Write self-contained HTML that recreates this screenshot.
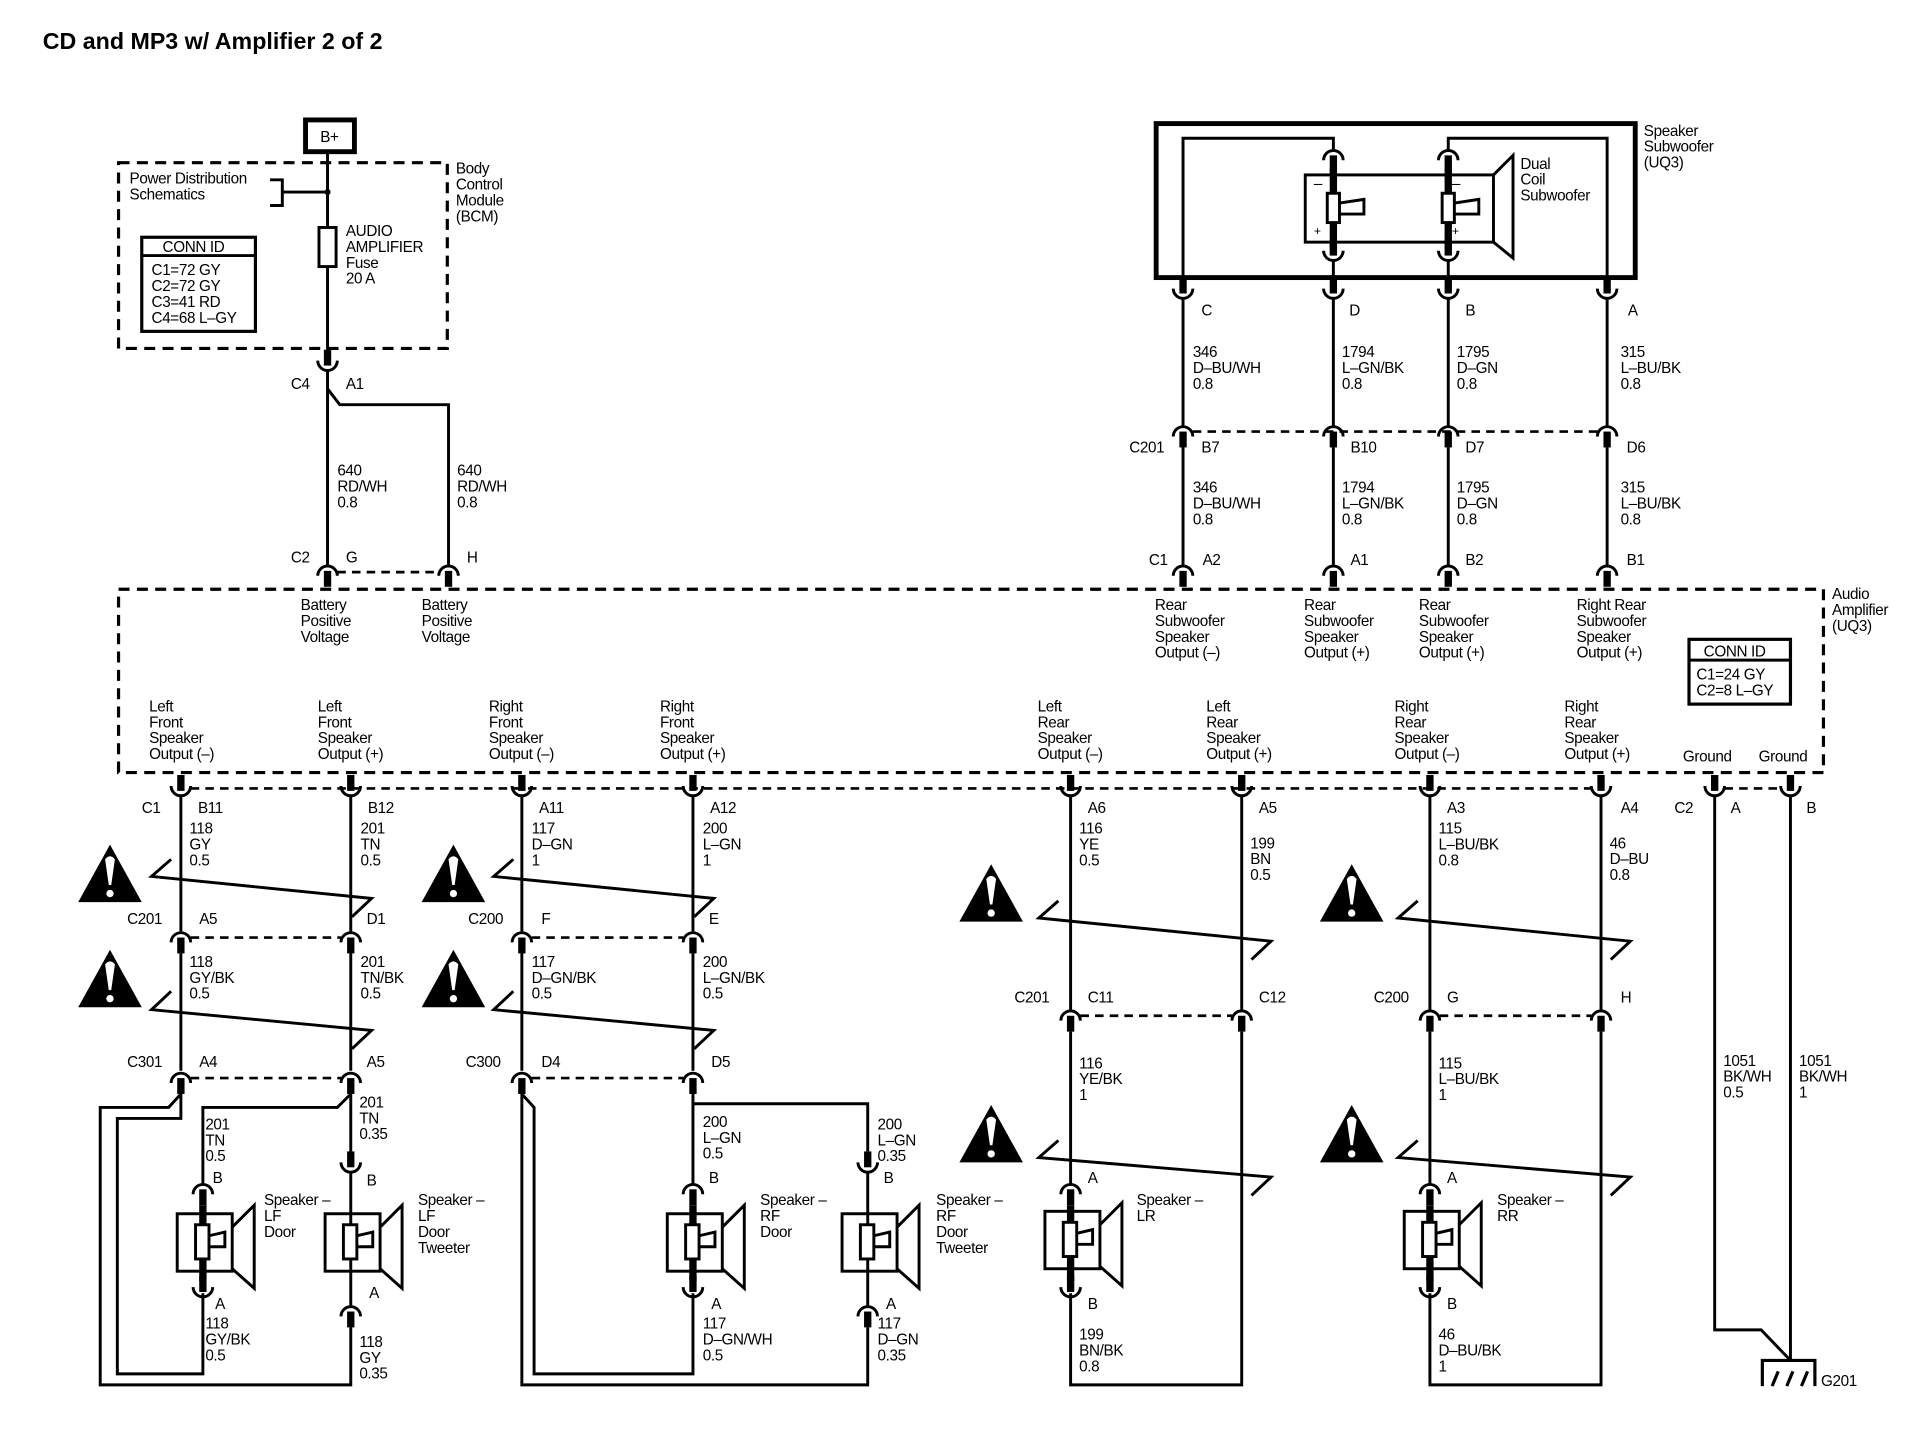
<!DOCTYPE html>
<html><head><meta charset="utf-8"><style>
html,body{margin:0;padding:0;background:#fff}
svg{display:block}
text{font-family:"Liberation Sans",Arial,sans-serif;font-size:12.5px;fill:#000;letter-spacing:-0.3px}
.t{font-size:19px;font-weight:bold;letter-spacing:0}
.w{fill:none;stroke:#000;stroke-width:2.4}
.d{fill:none;stroke:#000;stroke-width:2.6;stroke-dasharray:9 6}
.dd{fill:none;stroke:#000;stroke-width:2.2;stroke-dasharray:7 5}
</style></head><body>
<svg width="1920" height="1440" viewBox="0 0 1571 1178" xmlns="http://www.w3.org/2000/svg">
<defs>
<g id="su"><path d="M0,-16V-3" stroke="#000" stroke-width="6"/><path d="M-8,-7 A8,8 0 0 0 8,-7" fill="none" stroke="#000" stroke-width="2.4"/></g>
<g id="sn"><path d="M0,3V16" stroke="#000" stroke-width="6"/><path d="M-8,7 A8,8 0 0 1 8,7" fill="none" stroke="#000" stroke-width="2.4"/></g>
<g id="spk" fill="none" stroke="#000" stroke-width="2.4">
<rect x="-21" y="-23" width="45" height="47"/>
<rect x="-6" y="-14" width="11" height="28" fill="#fff"/>
<path d="M5,-5 L18,-8 L18,4 L5,4"/>
<path d="M24,-12 L42,-30 L42,38 L24,22"/>
</g>
<g id="warn"><path d="M0,0 L26,-47 L52,0 Z" fill="#000"/><path d="M22,-35 Q26,-40 30,-35 L27,-14 L25,-14 Z" fill="#fff"/><circle cx="26" cy="-7" r="3" fill="#fff"/></g>
</defs>

<text x="35" y="40" class="t">CD and MP3 w/ Amplifier 2 of 2</text>

<!-- B+ and BCM -->
<rect x="250" y="98" width="40" height="26" fill="none" stroke="#000" stroke-width="4"/>
<text x="262" y="116">B+</text>
<rect x="97" y="133" width="269" height="152" class="d"/>
<text x="106" y="150">Power Distribution</text><text x="106" y="163">Schematics</text>
<path d="M221,147 H231 V168 H221 M231,157 H268" class="w"/>
<circle cx="268" cy="157" r="2.5"/>
<path d="M268,124 V296" class="w"/>
<rect x="261" y="186" width="14" height="32" fill="#fff" stroke="#000" stroke-width="2.4"/>
<text x="283" y="193">AUDIO</text><text x="283" y="206">AMPLIFIER</text><text x="283" y="219">Fuse</text><text x="283" y="232">20 A</text>
<rect x="116" y="194" width="93" height="77" fill="none" stroke="#000" stroke-width="2.6"/>
<path d="M116,209 H209" class="w"/>
<text x="133" y="206">CONN ID</text>
<text x="124" y="225">C1=72 GY</text><text x="124" y="238">C2=72 GY</text><text x="124" y="251">C3=41 RD</text><text x="124" y="264">C4=68 L–GY</text>
<text x="373" y="142">Body</text><text x="373" y="155">Control</text><text x="373" y="168">Module</text><text x="373" y="181">(BCM)</text>
<use href="#su" x="268" y="302"/>
<text x="238" y="318">C4</text><text x="283" y="318">A1</text>
<path d="M268,302 V462 M268,318 L278,331 H367 V462" class="w"/>
<text x="276" y="389">640</text><text x="276" y="402">RD/WH</text><text x="276" y="415">0.8</text>
<text x="374" y="389">640</text><text x="374" y="402">RD/WH</text><text x="374" y="415">0.8</text>
<use href="#sn" x="268" y="464"/><use href="#sn" x="367" y="464"/>
<path d="M276,468 H359" class="dd"/>
<text x="238" y="460">C2</text><text x="283" y="460">G</text><text x="382" y="460">H</text>

<!-- Subwoofer -->
<rect x="946" y="101" width="392" height="126" fill="none" stroke="#000" stroke-width="4"/>
<path d="M968,227 V113 H1091 V122 M1315,227 V113 H1185 V122" class="w"/>
<use href="#sn" x="1091" y="124"/><use href="#sn" x="1185" y="124"/>
<rect x="1068" y="143" width="154" height="55" fill="none" stroke="#000" stroke-width="2.4"/>
<path d="M1222,143 L1238,127 L1238,211 L1222,198" class="w"/>
<path d="M1091,138 V204 M1185,138 V204" stroke="#000" stroke-width="6"/>
<rect x="1086" y="158" width="10" height="24" fill="#fff" stroke="#000" stroke-width="2.4"/>
<rect x="1180" y="158" width="10" height="24" fill="#fff" stroke="#000" stroke-width="2.4"/>
<path d="M1096,166 L1116,163 L1116,175 L1096,175 M1190,166 L1210,163 L1210,175 L1190,175" class="w"/>
<text x="1075" y="154">–</text><text x="1075" y="192" style="font-size:10px">+</text>
<text x="1188" y="154">–</text><text x="1188" y="192" style="font-size:10px">+</text>
<use href="#su" x="1091" y="212"/><use href="#su" x="1185" y="212"/>
<path d="M1091,212 V227 M1185,212 V227" class="w"/>
<text x="1244" y="138">Dual</text><text x="1244" y="151">Coil</text><text x="1244" y="164">Subwoofer</text>
<text x="1345" y="111">Speaker</text><text x="1345" y="124">Subwoofer</text><text x="1345" y="137">(UQ3)</text>
<use href="#su" x="968" y="243"/><use href="#su" x="1091" y="243"/><use href="#su" x="1185" y="243"/><use href="#su" x="1315" y="243"/>
<path d="M968,227 V229 M1091,227 V229 M1185,227 V229 M1315,227 V229" stroke="#000" stroke-width="6"/>
<text x="983" y="258">C</text><text x="1104" y="258">D</text><text x="1199" y="258">B</text><text x="1332" y="258">A</text>
<path d="M968,243 V348 M1091,243 V348 M1185,243 V348 M1315,243 V348" class="w"/>
<text x="976" y="292">346</text><text x="976" y="305">D–BU/WH</text><text x="976" y="318">0.8</text>
<text x="1098" y="292">1794</text><text x="1098" y="305">L–GN/BK</text><text x="1098" y="318">0.8</text>
<text x="1192" y="292">1795</text><text x="1192" y="305">D–GN</text><text x="1192" y="318">0.8</text>
<text x="1326" y="292">315</text><text x="1326" y="305">L–BU/BK</text><text x="1326" y="318">0.8</text>
<use href="#sn" x="968" y="350"/><use href="#sn" x="1091" y="350"/><use href="#sn" x="1185" y="350"/><use href="#sn" x="1315" y="350"/>
<path d="M976,353 H1307" class="dd"/>
<text x="924" y="370">C201</text><text x="983" y="370">B7</text><text x="1105" y="370">B10</text><text x="1199" y="370">D7</text><text x="1331" y="370">D6</text>
<path d="M968,366 V462 M1091,366 V462 M1185,366 V462 M1315,366 V462" class="w"/>
<text x="976" y="403">346</text><text x="976" y="416">D–BU/WH</text><text x="976" y="429">0.8</text>
<text x="1098" y="403">1794</text><text x="1098" y="416">L–GN/BK</text><text x="1098" y="429">0.8</text>
<text x="1192" y="403">1795</text><text x="1192" y="416">D–GN</text><text x="1192" y="429">0.8</text>
<text x="1326" y="403">315</text><text x="1326" y="416">L–BU/BK</text><text x="1326" y="429">0.8</text>
<use href="#sn" x="968" y="464"/><use href="#sn" x="1091" y="464"/><use href="#sn" x="1185" y="464"/><use href="#sn" x="1315" y="464"/>
<text x="940" y="462">C1</text><text x="984" y="462">A2</text><text x="1105" y="462">A1</text><text x="1199" y="462">B2</text><text x="1331" y="462">B1</text>

<!-- Amplifier -->
<rect x="97" y="482" width="1395" height="150" class="d"/>
<text x="246" y="499">Battery</text><text x="246" y="512">Positive</text><text x="246" y="525">Voltage</text>
<text x="345" y="499">Battery</text><text x="345" y="512">Positive</text><text x="345" y="525">Voltage</text>
<text x="945" y="499">Rear</text><text x="945" y="512">Subwoofer</text><text x="945" y="525">Speaker</text><text x="945" y="538">Output (–)</text>
<text x="1067" y="499">Rear</text><text x="1067" y="512">Subwoofer</text><text x="1067" y="525">Speaker</text><text x="1067" y="538">Output (+)</text>
<text x="1161" y="499">Rear</text><text x="1161" y="512">Subwoofer</text><text x="1161" y="525">Speaker</text><text x="1161" y="538">Output (+)</text>
<text x="1290" y="499">Right Rear</text><text x="1290" y="512">Subwoofer</text><text x="1290" y="525">Speaker</text><text x="1290" y="538">Output (+)</text>
<text x="1499" y="490">Audio</text><text x="1499" y="503">Amplifier</text><text x="1499" y="516">(UQ3)</text>
<rect x="1382" y="523" width="83" height="53" fill="none" stroke="#000" stroke-width="2.6"/>
<path d="M1382,540 H1465" class="w"/>
<text x="1394" y="537">CONN ID</text><text x="1388" y="556">C1=24 GY</text><text x="1388" y="569">C2=8 L–GY</text>
<text x="122" y="582">Left</text><text x="122" y="595">Front</text><text x="122" y="608">Speaker</text><text x="122" y="621">Output (–)</text>
<text x="260" y="582">Left</text><text x="260" y="595">Front</text><text x="260" y="608">Speaker</text><text x="260" y="621">Output (+)</text>
<text x="400" y="582">Right</text><text x="400" y="595">Front</text><text x="400" y="608">Speaker</text><text x="400" y="621">Output (–)</text>
<text x="540" y="582">Right</text><text x="540" y="595">Front</text><text x="540" y="608">Speaker</text><text x="540" y="621">Output (+)</text>
<text x="849" y="582">Left</text><text x="849" y="595">Rear</text><text x="849" y="608">Speaker</text><text x="849" y="621">Output (–)</text>
<text x="987" y="582">Left</text><text x="987" y="595">Rear</text><text x="987" y="608">Speaker</text><text x="987" y="621">Output (+)</text>
<text x="1141" y="582">Right</text><text x="1141" y="595">Rear</text><text x="1141" y="608">Speaker</text><text x="1141" y="621">Output (–)</text>
<text x="1280" y="582">Right</text><text x="1280" y="595">Rear</text><text x="1280" y="608">Speaker</text><text x="1280" y="621">Output (+)</text>
<text x="1377" y="623">Ground</text><text x="1439" y="623">Ground</text>

<!-- C1 bottom row -->
<use href="#su" x="148" y="650"/><use href="#su" x="287" y="650"/><use href="#su" x="427" y="650"/><use href="#su" x="567" y="650"/>
<use href="#su" x="876" y="650"/><use href="#su" x="1016" y="650"/><use href="#su" x="1170" y="650"/><use href="#su" x="1310" y="650"/>
<use href="#su" x="1403" y="650"/><use href="#su" x="1465" y="650"/>
<path d="M156,645 H1302" class="dd"/><path d="M1411,645 H1457" class="dd"/>
<text x="116" y="665">C1</text><text x="162" y="665">B11</text><text x="301" y="665">B12</text><text x="441" y="665">A11</text><text x="581" y="665">A12</text>
<text x="890" y="665">A6</text><text x="1030" y="665">A5</text><text x="1184" y="665">A3</text><text x="1326" y="665">A4</text>
<text x="1370" y="665">C2</text><text x="1416" y="665">A</text><text x="1478" y="665">B</text>

<!-- LF -->
<path d="M148,650 V762 M287,650 V762" class="w"/>
<text x="155" y="682">118</text><text x="155" y="695">GY</text><text x="155" y="708">0.5</text>
<text x="295" y="682">201</text><text x="295" y="695">TN</text><text x="295" y="708">0.5</text>
<use href="#warn" x="64" y="738"/>
<path d="M140,703 L124,717 L304,735 L288,750" class="w"/>
<use href="#sn" x="148" y="764"/><use href="#sn" x="287" y="764"/><path d="M156,767 H279" class="dd"/>
<text x="104" y="756">C201</text><text x="163" y="756">A5</text><text x="300" y="756">D1</text>
<path d="M148,780 V876 M287,780 V876" class="w"/>
<text x="155" y="791">118</text><text x="155" y="804">GY/BK</text><text x="155" y="817">0.5</text>
<text x="295" y="791">201</text><text x="295" y="804">TN/BK</text><text x="295" y="817">0.5</text>
<use href="#warn" x="64" y="824"/>
<path d="M140,811 L124,826 L304,843 L288,858" class="w"/>
<use href="#sn" x="148" y="879"/><use href="#sn" x="287" y="879"/><path d="M156,882 H279" class="dd"/>
<text x="104" y="873">C301</text><text x="163" y="873">A4</text><text x="300" y="873">A5</text>
<path d="M148,895 L138,906 H82 V1133 H287 V1086" class="w"/>
<path d="M148,895 V915 H96 V1124 H166 V1058" class="w"/>
<path d="M287,895 L276,906 H166 V969" class="w"/>
<path d="M287,895 V942" class="w"/>
<use href="#su" x="287" y="958"/>
<use href="#sn" x="166" y="970"/>
<path d="M166,986 V1048" stroke="#000" stroke-width="6"/>
<use href="#spk" x="166" y="1016"/>
<use href="#su" x="166" y="1060"/>
<path d="M287,958 V1068" class="w"/>
<use href="#spk" x="287" y="1016"/>
<use href="#sn" x="287" y="1070"/>
<text x="168" y="924">201</text><text x="168" y="937">TN</text><text x="168" y="950">0.5</text>
<text x="294" y="906">201</text><text x="294" y="919">TN</text><text x="294" y="932">0.35</text>
<text x="174" y="968">B</text><text x="300" y="970">B</text>
<text x="176" y="1071">A</text><text x="302" y="1062">A</text>
<text x="168" y="1087">118</text><text x="168" y="1100">GY/BK</text><text x="168" y="1113">0.5</text>
<text x="294" y="1102">118</text><text x="294" y="1115">GY</text><text x="294" y="1128">0.35</text>
<text x="216" y="986">Speaker –</text><text x="216" y="999">LF</text><text x="216" y="1012">Door</text>
<text x="342" y="986">Speaker –</text><text x="342" y="999">LF</text><text x="342" y="1012">Door</text><text x="342" y="1025">Tweeter</text>

<!-- RF -->
<path d="M427,650 V762 M567,650 V762" class="w"/>
<text x="435" y="682">117</text><text x="435" y="695">D–GN</text><text x="435" y="708">1</text>
<text x="575" y="682">200</text><text x="575" y="695">L–GN</text><text x="575" y="708">1</text>
<use href="#warn" x="345" y="738"/>
<path d="M420,703 L404,717 L584,735 L568,750" class="w"/>
<use href="#sn" x="427" y="764"/><use href="#sn" x="567" y="764"/><path d="M435,767 H559" class="dd"/>
<text x="383" y="756">C200</text><text x="443" y="756">F</text><text x="580" y="756">E</text>
<path d="M427,780 V876 M567,780 V876" class="w"/>
<text x="435" y="791">117</text><text x="435" y="804">D–GN/BK</text><text x="435" y="817">0.5</text>
<text x="575" y="791">200</text><text x="575" y="804">L–GN/BK</text><text x="575" y="817">0.5</text>
<use href="#warn" x="345" y="824"/>
<path d="M420,811 L404,826 L584,843 L568,858" class="w"/>
<use href="#sn" x="427" y="879"/><use href="#sn" x="567" y="879"/><path d="M435,882 H559" class="dd"/>
<text x="381" y="873">C300</text><text x="443" y="873">D4</text><text x="582" y="873">D5</text>
<path d="M427,895 V1133 H710 V1086" class="w"/>
<path d="M427,895 L437,906 V1124 H567 V1058" class="w"/>
<path d="M567,895 V969 M567,903 H710 V942" class="w"/>
<use href="#sn" x="567" y="970"/>
<path d="M567,986 V1048" stroke="#000" stroke-width="6"/>
<use href="#spk" x="567" y="1016"/>
<use href="#su" x="567" y="1060"/>
<use href="#su" x="710" y="958"/>
<path d="M710,958 V1068" class="w"/>
<use href="#spk" x="710" y="1016"/>
<use href="#sn" x="710" y="1070"/>
<text x="575" y="922">200</text><text x="575" y="935">L–GN</text><text x="575" y="948">0.5</text>
<text x="718" y="924">200</text><text x="718" y="937">L–GN</text><text x="718" y="950">0.35</text>
<text x="580" y="968">B</text><text x="723" y="968">B</text>
<text x="582" y="1071">A</text><text x="725" y="1071">A</text>
<text x="575" y="1087">117</text><text x="575" y="1100">D–GN/WH</text><text x="575" y="1113">0.5</text>
<text x="718" y="1087">117</text><text x="718" y="1100">D–GN</text><text x="718" y="1113">0.35</text>
<text x="622" y="986">Speaker –</text><text x="622" y="999">RF</text><text x="622" y="1012">Door</text>
<text x="766" y="986">Speaker –</text><text x="766" y="999">RF</text><text x="766" y="1012">Door</text><text x="766" y="1025">Tweeter</text>

<!-- LR -->
<path d="M876,650 V826 M1016,650 V826" class="w"/>
<text x="883" y="682">116</text><text x="883" y="695">YE</text><text x="883" y="708">0.5</text>
<text x="1023" y="694">199</text><text x="1023" y="707">BN</text><text x="1023" y="720">0.5</text>
<use href="#warn" x="785" y="754"/>
<path d="M866,737 L850,751 L1040,770 L1024,785" class="w"/>
<use href="#sn" x="876" y="828"/><use href="#sn" x="1016" y="828"/><path d="M884,831 H1008" class="dd"/>
<text x="830" y="820">C201</text><text x="890" y="820">C11</text><text x="1030" y="820">C12</text>
<path d="M876,844 V969 M1016,844 V1133 H876 V1058" class="w"/>
<text x="883" y="874">116</text><text x="883" y="887">YE/BK</text><text x="883" y="900">1</text>
<use href="#warn" x="785" y="951"/>
<path d="M866,933 L850,947 L1040,963 L1024,978" class="w"/>
<use href="#sn" x="876" y="970"/>
<path d="M876,986 V1048" stroke="#000" stroke-width="6"/>
<use href="#spk" x="876" y="1014"/>
<use href="#su" x="876" y="1060"/>
<text x="890" y="968">A</text><text x="890" y="1071">B</text>
<text x="883" y="1096">199</text><text x="883" y="1109">BN/BK</text><text x="883" y="1122">0.8</text>
<text x="930" y="986">Speaker –</text><text x="930" y="999">LR</text>

<!-- RR -->
<path d="M1170,650 V826 M1310,650 V826" class="w"/>
<text x="1177" y="682">115</text><text x="1177" y="695">L–BU/BK</text><text x="1177" y="708">0.8</text>
<text x="1317" y="694">46</text><text x="1317" y="707">D–BU</text><text x="1317" y="720">0.8</text>
<use href="#warn" x="1080" y="754"/>
<path d="M1160,737 L1144,751 L1334,770 L1318,785" class="w"/>
<use href="#sn" x="1170" y="828"/><use href="#sn" x="1310" y="828"/><path d="M1178,831 H1302" class="dd"/>
<text x="1124" y="820">C200</text><text x="1184" y="820">G</text><text x="1326" y="820">H</text>
<path d="M1170,844 V969 M1310,844 V1133 H1170 V1058" class="w"/>
<text x="1177" y="874">115</text><text x="1177" y="887">L–BU/BK</text><text x="1177" y="900">1</text>
<use href="#warn" x="1080" y="951"/>
<path d="M1160,933 L1144,947 L1334,963 L1318,978" class="w"/>
<use href="#sn" x="1170" y="970"/>
<path d="M1170,986 V1048" stroke="#000" stroke-width="6"/>
<use href="#spk" x="1170" y="1014"/>
<use href="#su" x="1170" y="1060"/>
<text x="1184" y="968">A</text><text x="1184" y="1071">B</text>
<text x="1177" y="1096">46</text><text x="1177" y="1109">D–BU/BK</text><text x="1177" y="1122">1</text>
<text x="1225" y="986">Speaker –</text><text x="1225" y="999">RR</text>

<!-- Ground -->
<path d="M1403,650 V1088 H1441 L1465,1113 M1465,650 V1113" class="w"/>
<text x="1410" y="872">1051</text><text x="1410" y="885">BK/WH</text><text x="1410" y="898">0.5</text>
<text x="1472" y="872">1051</text><text x="1472" y="885">BK/WH</text><text x="1472" y="898">1</text>
<path d="M1442,1134 V1113 H1485 V1134" fill="none" stroke="#000" stroke-width="2.6"/>
<path d="M1450,1134 L1455,1122 M1462,1134 L1467,1122 M1474,1134 L1479,1122" fill="none" stroke="#000" stroke-width="2.6"/>
<text x="1490" y="1134">G201</text>
</svg>
</body></html>
